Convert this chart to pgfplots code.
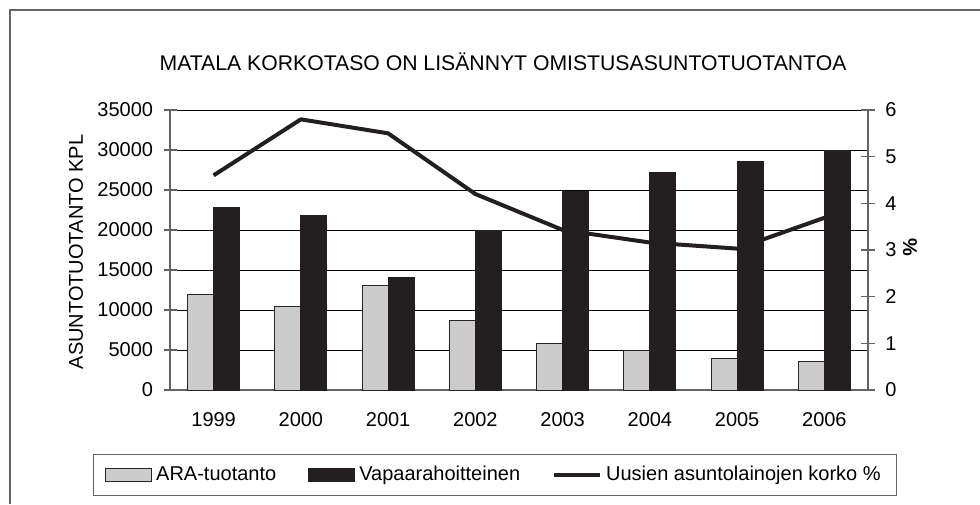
\documentclass[border=0pt]{standalone}
\usepackage{fontspec}
\setmainfont{Liberation Sans}
\usepackage{pgfplots}
\pgfplotsset{compat=1.18}
\definecolor{aragray}{RGB}{204,204,204}
\definecolor{darkbar}{RGB}{35,31,32}
\definecolor{axgray}{RGB}{100,100,100}

\pgfplotstableread{
x ara vapaa korko
1 11900 22800 4.60
2 10400 21800 5.80
3 13100 14100 5.50
4 8700 20000 4.20
5 5800 24800 3.43
6 5000 27200 3.16
7 4000 28600 3.03
8 3600 30000 3.69
}\datatable

\pgfplotsset{
  frame/.style={width=349pt, height=140pt, scale only axis,
    at={(85pt,57pt)}, anchor=south west, xmin=0.5, xmax=8.5},
}

\begin{document}
\begin{tikzpicture}
\path[use as bounding box] (0,0) rectangle (490pt,252pt);
\draw[axgray, line width=0.7pt] (5pt,0) -- (5pt,247pt) -- (490pt,247pt);
\node[anchor=center, font=\fontsize{10.6}{12}\selectfont] at (251.5pt,221pt) {MATALA KORKOTASO ON LISÄNNYT OMISTUSASUNTOTUOTANTOA};
\node[rotate=90, anchor=center] at (38pt,126pt) {ASUNTOTUOTANTO KPL};
\node[rotate=-90, anchor=center, font=\bfseries] at (455pt,128.5pt) {\%};

% left axis, grid and legend
\begin{axis}[frame,
  ymin=0, ymax=35000, ytick={0,5000,...,35000},
  scaled y ticks=false,
  /pgf/number format/assume math mode=true,
  /pgf/number format/set thousands separator={},
  axis x line*=bottom, axis y line*=left,
  axis line style={axgray, line width=0.6pt},
  ymajorgrids, grid style={black, line width=0.45pt},
  xtick={1,...,8}, xticklabels={1999,2000,2001,2002,2003,2004,2005,2006},
  minor xtick={0.5,1.5,...,8.5},
  x tick style={draw=none},
  minor x tick style={axgray, line width=0.6pt},
  y tick style={axgray, line width=0.6pt},
  tick align=center, major tick length=6.5pt, minor tick length=7pt,
  yticklabel style={inner sep=0pt, xshift=-5pt},
  xticklabel style={inner sep=0pt, yshift=-8pt},
  legend columns=3,
  legend style={at={(0.4656,-0.3036)}, anchor=center,
    draw=axgray, line width=0.6pt, inner xsep=6pt, inner ysep=4pt,
    /tikz/every even column/.append style={column sep=14pt}},
]
\addlegendimage{legend image code/.code={\draw[fill=aragray, draw=black!85, line width=0.5pt] (0pt,-3.25pt) rectangle (23pt,3.25pt);}}
\addlegendentry{ARA-tuotanto}
\addlegendimage{legend image code/.code={\draw[fill=darkbar, draw=darkbar, line width=0.5pt] (0pt,-3.25pt) rectangle (23pt,3.25pt);}}
\addlegendentry{Vapaarahoitteinen}
\addlegendimage{legend image code/.code={\draw[darkbar, line width=2pt] (0pt,0pt) -- (23pt,0pt);}}
\addlegendentry{Uusien asuntolainojen korko \%}
\end{axis}

% right axis with interest rate line
\begin{axis}[frame,
  ymin=0, ymax=6, ytick={0,...,6},
  /pgf/number format/assume math mode=true,
  axis x line=none, axis y line*=right,
  axis line style={axgray, line width=0.6pt},
  y tick style={axgray, line width=0.6pt},
  tick align=center, major tick length=7pt,
  yticklabel style={inner sep=0pt, xshift=5pt},
]
\addplot[darkbar, line width=2pt, line join=round] table[x=x, y=korko] {\datatable};
\end{axis}

% bars drawn over the line
\begin{axis}[frame,
  ymin=0, ymax=35000, hide axis,
  ybar=0pt, bar width=13pt,
]
\addplot[fill=aragray, draw=black!85, line width=0.5pt] table[x=x, y=ara] {\datatable};
\addplot[fill=darkbar, draw=darkbar, line width=0.5pt] table[x=x, y=vapaa] {\datatable};
\end{axis}
\end{tikzpicture}
\end{document}
